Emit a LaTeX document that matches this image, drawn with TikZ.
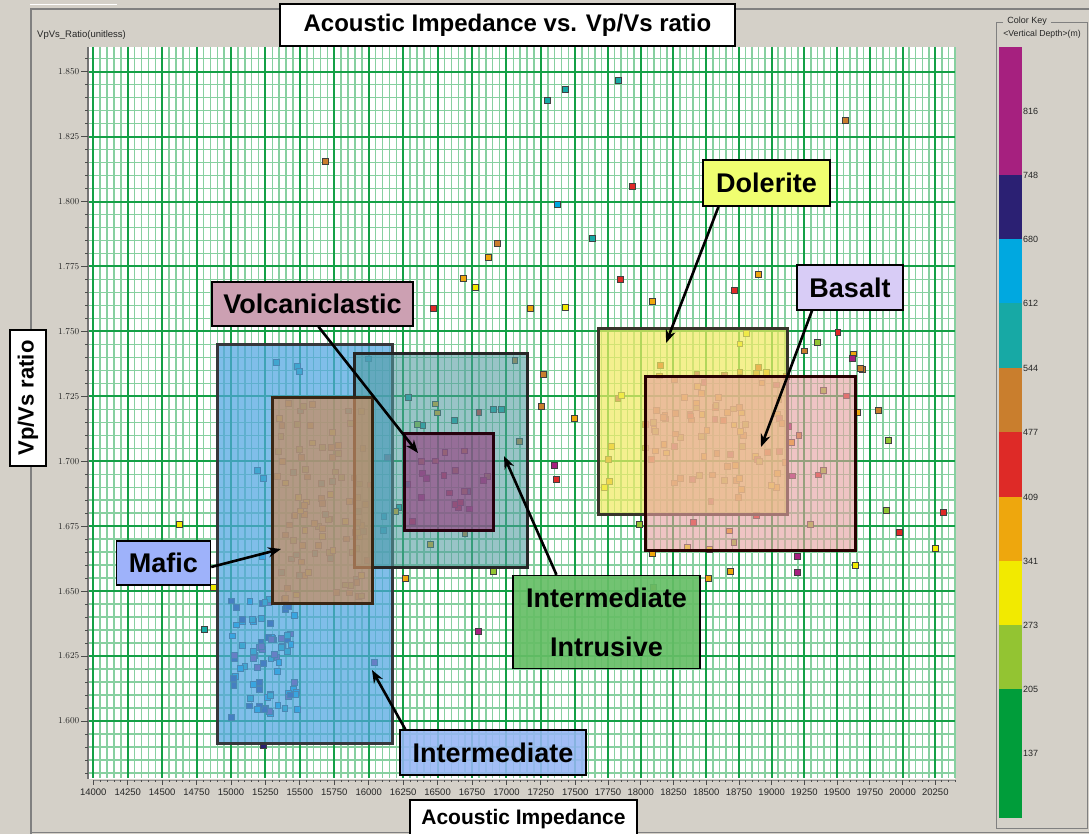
\documentclass[tikz,border=0pt]{standalone}
\usepackage{fontspec}
\setmainfont{Liberation Sans}
\usetikzlibrary{arrows.meta}

% window and grid colours
\definecolor{panel}{RGB}{212,208,200}
\definecolor{framegray}{RGB}{128,128,128}
\definecolor{gmaj}{RGB}{20,160,70}
\definecolor{gmin}{RGB}{135,208,160}
% depth colour key
\definecolor{c137}{RGB}{0,157,58}
\definecolor{c205}{RGB}{147,196,50}
\definecolor{c273}{RGB}{242,234,0}
\definecolor{c341}{RGB}{238,167,13}
\definecolor{c409}{RGB}{222,42,39}
\definecolor{c477}{RGB}{201,126,45}
\definecolor{c544}{RGB}{23,169,165}
\definecolor{c612}{RGB}{0,168,224}
\definecolor{c680}{RGB}{43,32,115}
\definecolor{c748}{RGB}{166,32,127}
% zone fills
\definecolor{zBlue}{RGB}{80,165,225}
\definecolor{zTeal}{RGB}{80,155,160}
\definecolor{zBrown}{RGB}{200,140,95}
\definecolor{zPurple}{RGB}{150,70,130}
\definecolor{zYellow}{RGB}{240,235,100}
\definecolor{zPink}{RGB}{230,160,160}
% label fills
\definecolor{lVolc}{RGB}{204,160,178}
\definecolor{lMafic}{RGB}{158,178,250}
\definecolor{lInter}{RGB}{150,182,245}
\definecolor{lIntr}{RGB}{102,190,102}
\definecolor{lDol}{RGB}{240,254,112}
\definecolor{lBas}{RGB}{216,204,246}

% colour groups for the point clouds
\colorlet{clA1}{c612}\colorlet{clA2}{c680}\colorlet{clA3}{c748}\colorlet{clA4}{c544}
\colorlet{clB1}{c205}\colorlet{clB2}{c273}\colorlet{clB3}{c341}\colorlet{clB4}{c477}\colorlet{clB5}{c544}
\colorlet{clC1}{c341}\colorlet{clC2}{c477}\colorlet{clC3}{c205}\colorlet{clC4}{c544}\colorlet{clC5}{c409}
\colorlet{clD1}{c409}\colorlet{clD2}{c748}\colorlet{clD3}{c477}
\colorlet{clE1}{c341}\colorlet{clE2}{c409}\colorlet{clE3}{c477}\colorlet{clE4}{c205}\colorlet{clE5}{c273}\colorlet{clE6}{c748}

\newcommand\sqpt[3]{\filldraw[ptline,fill=#3] ({#1-2.9},{#2-2.9}) rectangle ++(5.8,5.8);}

\begin{document}
\begin{tikzpicture}[x=1pt,y=-1pt,
  gminor/.style={draw=gmin,line width=1.5pt},
  gmajor/.style={draw=gmaj,line width=2pt},
  ptline/.style={draw=black!75,line width=0.7pt},
  zone/.style={line width=3pt},
  lab/.style={draw=black,line width=1.4pt,inner sep=0pt,font=\bfseries\fontsize{27}{30}\selectfont,text=black},
  arr/.style={draw=black,line width=2.6pt,-{Stealth[length=13pt,width=10pt]}},
  ticklab/.style={font=\fontsize{9.5}{11}\selectfont,text=black!85,inner sep=0pt},
  small/.style={font=\fontsize{9}{11}\selectfont,text=black!85,inner sep=0pt}]

\useasboundingbox (0,0) rectangle (1089,834);
\fill[panel] (0,0) rectangle (1089,834);

% window frame
\draw[white,line width=1pt] (30,5) -- (117,5);
\draw[framegray,line width=1.2pt] (31,834) -- (31,9) -- (1089,9);
\draw[framegray,line width=1pt] (31,832) -- (1089,832);

% plot area
\fill[white] (88,47) rectangle (955,779);

% grid: minor lines
\foreach \k in {0,...,128}{
  \pgfmathsetmacro\gx{\k<71 ? 93.3+6.886*\k : 575.3+6.546*(\k-70)}
  \pgfmathtruncatemacro\m{mod(\k,5)}
  \ifnum\m=0\relax\else\draw[gminor] (\gx,47) -- (\gx,778);\fi
}
\foreach \j in {-1,...,54}{
  \pgfmathsetmacro\gy{71.7+12.986*\j}
  \pgfmathtruncatemacro\m{mod(\j,5)}
  \ifnum\m=0\relax\else\draw[gminor] (89,\gy) -- (955,\gy);\fi
}
% grid: major lines
\foreach \i in {0,...,25}{
  \pgfmathsetmacro\gx{\i<15 ? 93.3+34.43*\i : 575.3+32.73*(\i-14)}
  \draw[gmajor] (\gx,47) -- (\gx,778);
}
\foreach \i in {0,...,10}{
  \pgfmathsetmacro\gy{71.7+64.93*\i}
  \draw[gmajor] (89,\gy) -- (955,\gy);
}

% axes and ticks
\draw[black!55,line width=1.6pt] (88,47) -- (88,779);
\foreach \j in {-1,...,54}{
  \pgfmathsetmacro\gy{71.7+12.986*\j}
  \pgfmathtruncatemacro\m{mod(\j,5)}
  \ifnum\m=0\relax\draw[black!70,line width=0.8pt] (81,\gy) -- (88,\gy);
  \else\draw[black!70,line width=0.8pt] (85,\gy) -- (88,\gy);\fi
}
\draw[black!45,line width=0.8pt] (93,780) -- (955,780);
\foreach \k in {0,...,128}{
  \pgfmathsetmacro\gx{\k<71 ? 93.3+6.886*\k : 575.3+6.546*(\k-70)}
  \pgfmathtruncatemacro\m{mod(\k,5)}
  \ifnum\m=0\relax\draw[black!70,line width=0.8pt] (\gx,780) -- (\gx,785);
  \else\draw[black!70,line width=0.8pt] (\gx,780) -- (\gx,782);\fi
}
\foreach \i in {0,...,25}{
  \pgfmathsetmacro\gx{\i<15 ? 93.3+34.43*\i : 575.3+32.73*(\i-14)}
  \node[ticklab] (xl\i) at (\gx,792.5) {\the\numexpr14000+250*\i\relax};
}
\foreach \i in {0,...,10}{
  \pgfmathsetmacro\gy{71.7+64.93*\i}
  \pgfmathsetmacro\v{1.850-0.025*\i}
  \node[ticklab,anchor=east] (yl\i) at (79.5,\gy) {\pgfmathprintnumber[fixed,precision=3,zerofill]{\v}};
}
\node[small,anchor=west,font=\fontsize{9.5}{11}\selectfont] (yunit) at (37,35) {VpVs\_Ratio(unitless)};

% data points
\pgfmathsetseed{1234}
\foreach \i in {1,...,80}{
  \pgfmathsetmacro\px{226+72*rnd}
  \pgfmathsetmacro\py{597+122*rnd}
  \pgfmathtruncatemacro\ci{random(1,4)}
  \sqpt{\px}{\py}{clA\ci}
}
\foreach \i in {1,...,95}{
  \pgfmathsetmacro\px{277+90*rnd}
  \pgfmathsetmacro\py{403+196*rnd}
  \pgfmathtruncatemacro\ci{random(1,5)}
  \sqpt{\px}{\py}{clB\ci}
}
\foreach \i in {1,...,30}{
  \pgfmathsetmacro\px{360+162*rnd}
  \pgfmathsetmacro\py{358+204*rnd}
  \pgfmathtruncatemacro\ci{random(1,5)}
  \sqpt{\px}{\py}{clC\ci}
}
\foreach \i in {1,...,12}{
  \pgfmathsetmacro\px{410+78*rnd}
  \pgfmathsetmacro\py{438+88*rnd}
  \pgfmathtruncatemacro\ci{random(1,3)}
  \sqpt{\px}{\py}{clD\ci}
}
\foreach \i in {1,...,70}{
  \pgfmathsetmacro\px{648+142*rnd}
  \pgfmathsetmacro\py{362+128*rnd}
  \pgfmathtruncatemacro\ci{random(1,6)}
  \sqpt{\px}{\py}{clE\ci}
}
\foreach \i in {1,...,40}{
  \pgfmathsetmacro\px{602+252*rnd}
  \pgfmathsetmacro\py{332+222*rnd}
  \pgfmathtruncatemacro\ci{random(1,6)}
  \sqpt{\px}{\py}{clE\ci}
}
\foreach \x/\y/\c in {618/80/c544,565/89/c544,547/100/c544,845/120/c477,325/161/c477,
  632/186/c409,557/204/c612,825/198/c137,592/238/c544,497/243/c477,488/257/c341,
  463/278/c341,475/287/c273,620/279/c409,758/274/c341,433/308/c409,530/308/c341,
  565/307/c273,541/406/c477,652/301/c341,734/290/c409,179/524/c273,213/587/c273,
  204/629/c544,888/440/c205,886/510/c205,899/532/c409,935/548/c273,855/565/c273,
  797/556/c748,797/572/c748,730/571/c341,708/578/c341,653/587/c477,405/578/c341,
  493/571/c205,478/631/c748,574/418/c341,554/465/c748,556/479/c409,604/487/c273,
  609/481/c341,621/395/c273,543/374/c477,862/369/c477,857/412/c341,374/662/c748,
  276/362/c544,297/366/c544,299/371/c544,257/470/c544,263/478/c544,262/556/c612,
  263/745/c680,878/410/c477,860/368/c477,943/512/c409,823/470/c205}{
  \sqpt{\x}{\y}{\c}
}

% classification zones
\draw[zone,draw=black!80!cyan!60!black,fill=zBlue,fill opacity=0.72] (217,344) rectangle (392,743);
\draw[zone,draw=black!85,fill=zTeal,fill opacity=0.58] (354,353) rectangle (527,567);
\draw[zone,draw=black!70!brown,fill=zBrown,fill opacity=0.72] (272,397) rectangle (372,603);
\draw[zone,draw=black!80!purple,fill=zPurple,fill opacity=0.68] (404,433) rectangle (493,530);
\draw[zone,draw=black!80!olive,fill=zYellow,fill opacity=0.72] (598,328) rectangle (787,514);
\draw[zone,draw=black!85!red,fill=zPink,fill opacity=0.62] (645,376) rectangle (855,550);

% labels
\node[lab,fill=lVolc,minimum width=201pt,minimum height=44pt] (volc) at (312.5,304) {Volcaniclastic};
\node[lab,fill=lMafic,minimum width=94pt,minimum height=44pt] (mafic) at (163.5,563) {Mafic};
\node[lab,fill=lInter,fill opacity=0.88,text opacity=1,minimum width=186pt,minimum height=45pt] (interm) at (493,752.5) {Intermediate};
\node[lab,fill=lIntr,fill opacity=0.92,text opacity=1,minimum width=187pt,minimum height=93pt,align=center,font=\bfseries\fontsize{27}{49}\selectfont] (intr) at (606.5,622) {Intermediate\\Intrusive};
\node[lab,fill=lDol,minimum width=127pt,minimum height=46pt] (dol) at (766.5,183) {Dolerite};
\node[lab,fill=lBas,minimum width=106pt,minimum height=45pt] (bas) at (850,287.5) {Basalt};

% arrows into the zones
\coordinate (tipV) at (418,453);
\coordinate (tipM) at (281,549);
\coordinate (tipI) at (372,670);
\coordinate (tipII) at (504,456);
\coordinate (tipD) at (666,343);
\coordinate (tipB) at (761,447);
\draw[arr] ([xshift=6pt]volc.south) -- (tipV);
\draw[arr] ([yshift=-4pt]mafic.east) -- (tipM);
\draw[arr] ([xshift=6pt]interm.north west) -- (tipI);
\draw[arr] ([xshift=-50pt]intr.north) -- (tipII);
\draw[arr] ([xshift=-48pt]dol.south) -- (tipD);
\draw[arr] ([xshift=-38pt]bas.south) -- (tipB);

% title and axis captions
\node[draw=black,line width=1.4pt,fill=white,minimum width=455pt,minimum height=42pt,inner sep=0pt,
  font=\bfseries\fontsize{24}{26}\selectfont] (title) at (507.5,25) {Acoustic Impedance vs. Vp/Vs ratio};
\node[draw=black,line width=1.4pt,fill=white,minimum width=227pt,minimum height=38pt,inner sep=0pt,
  font=\bfseries\fontsize{21}{24}\selectfont] (xcap) at (523.5,819) {Acoustic Impedance};
\node[draw=black,line width=1.4pt,fill=white,minimum width=136pt,minimum height=36pt,inner sep=0pt,rotate=90,
  font=\bfseries\fontsize{22}{24}\selectfont] (ycap) at (28,398) {Vp/Vs ratio};

% colour key
\draw[framegray,line width=0.8pt] (1003,22.5) -- (996,22.5) -- (996,828) -- (1087,828) -- (1087,22.5) -- (1051,22.5);
\node[small] (keyt) at (1027,21.5) {Color Key};
\node[small,font=\fontsize{8.7}{11}\selectfont] (keyu) at (1042,34) {<Vertical Depth>(m)};
\foreach \t/\b/\c in {46.7/175/c748,175/239/c680,239/303/c612,303/368/c544,368/431.7/c477,
  431.7/496.7/c409,496.7/561/c341,561/625/c273,625/689.3/c205,689.3/817.7/c137}{
  \fill[\c] (999,\t) rectangle (1021.7,\b);
}
\foreach \v/\y in {816/111,748/175,680/239,612/303,544/368,477/432,409/497,341/561,273/625,205/689,137/753}{
  \node[small,anchor=west] (key\v) at (1023,\y) {\v};
}
\end{tikzpicture}
\end{document}
